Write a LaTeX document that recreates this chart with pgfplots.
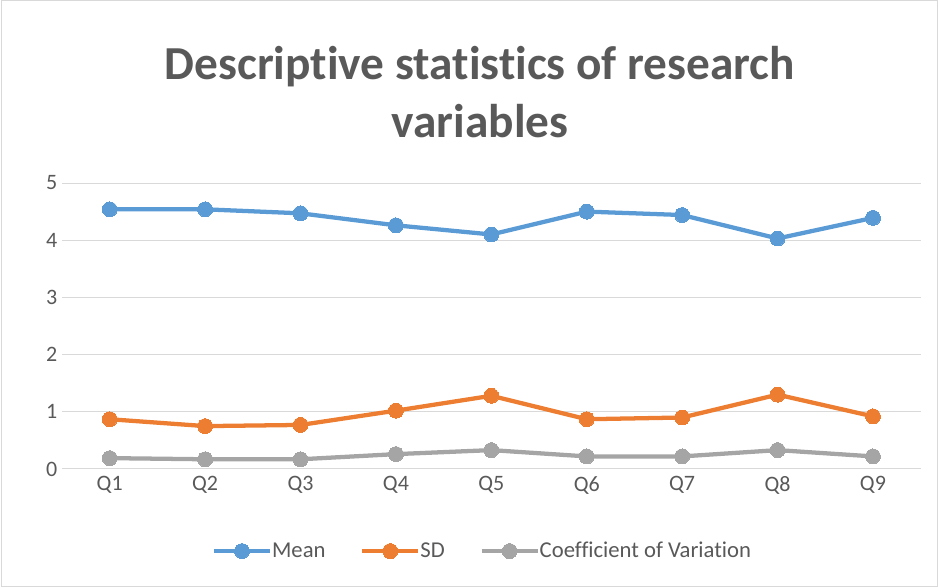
\documentclass[border=0pt]{standalone}
\usepackage{pgfplots}
\pgfplotsset{compat=1.18}
\usepackage{fontspec}
\setmainfont{Carlito}[RawFeature=-liga]
\definecolor{cmean}{HTML}{5B9BD5}
\definecolor{csd}{HTML}{ED7D31}
\definecolor{ccv}{HTML}{A5A5A5}
\definecolor{ctext}{HTML}{595959}
\definecolor{cgrid}{HTML}{D9D9D9}
\begin{document}
\begin{tikzpicture}
% page: 938 x 588 px at 0.75pt per px
\path[use as bounding box] (0pt,0pt) rectangle (703.5pt,441pt);
\draw[cgrid, line width=0.75pt] (0.75pt,0.75pt) rectangle (702.75pt,440.25pt);
\node[align=center, text=ctext, font=\fontsize{35.5}{43}\selectfont\bfseries] at (360pt,372pt) {Descriptive statistics of research\\variables};
\begin{axis}[
    at={(46.5pt,89.25pt)}, anchor=south west,
    scale only axis,
    width=644pt, height=214.5pt,
    xmin=0.5, xmax=9.5,
    ymin=0, ymax=5,
    xtick={1,...,9},
    xticklabels={Q1,Q2,Q3,Q4,Q5,Q6,Q7,Q8,Q9},
    ytick={0,1,2,3,4,5},
    ymajorgrids=true,
    grid style={cgrid, line width=0.75pt},
    axis line style={draw=none},
    major tick style={draw=none},
    tick label style={font=\fontsize{16.5}{18}\selectfont, text=ctext},
    xticklabel style={yshift=-2pt},
    /pgf/number format/assume math mode=true,
    clip=false,
    legend columns=3,
    legend style={at={(0.49,-0.287)}, anchor=center, draw=none,
        font=\fontsize{17}{19}\selectfont, text=ctext,
        /tikz/every even column/.append style={column sep=24pt},
        /tikz/every odd column/.append style={column sep=-2pt}},
    legend image code/.code={
        \draw[mark repeat=2,mark phase=2] plot coordinates {(0pt,0pt) (21pt,0pt) (42pt,0pt)};},
    every axis plot/.append style={line width=3.2pt, mark=*, mark size=5.6pt},
]
\addplot[cmean, mark options={fill=cmean, draw=cmean, line width=0pt}] coordinates {
    (1,4.54) (2,4.54) (3,4.47) (4,4.26) (5,4.10) (6,4.50) (7,4.44) (8,4.03) (9,4.39)};
\addlegendentry{Mean}
\addplot[csd, mark options={fill=csd, draw=csd, line width=0pt}] coordinates {
    (1,0.87) (2,0.75) (3,0.77) (4,1.02) (5,1.28) (6,0.87) (7,0.90) (8,1.30) (9,0.92)};
\addlegendentry{SD}
\addplot[ccv, mark options={fill=ccv, draw=ccv, line width=0pt}] coordinates {
    (1,0.19) (2,0.17) (3,0.17) (4,0.26) (5,0.33) (6,0.22) (7,0.22) (8,0.33) (9,0.22)};
\addlegendentry{Coefficient of Variation}
\end{axis}
\end{tikzpicture}
\end{document}
